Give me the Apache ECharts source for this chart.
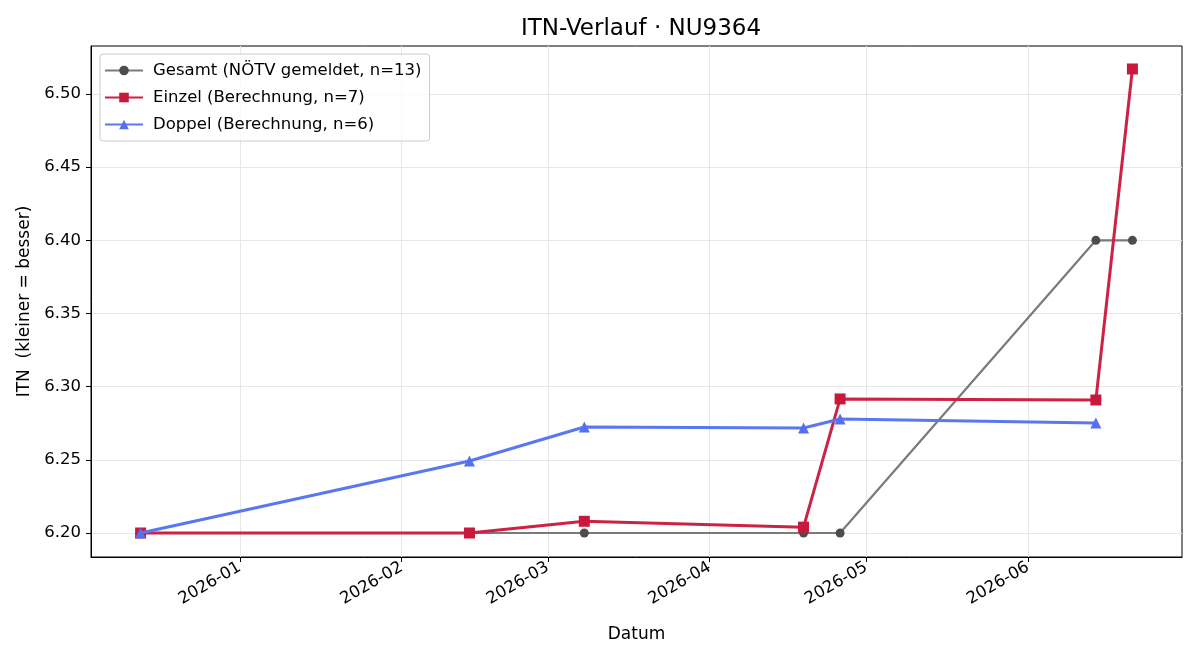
<!DOCTYPE html>
<html>
<head>
<meta charset="utf-8">
<title>ITN-Verlauf</title>
<script src="https://cdn.jsdelivr.net/npm/echarts@6/dist/echarts.min.js"></script>
<style>
  html, body { margin: 0; padding: 0; background: #fff; }
  #chart { width: 1200px; height: 660px; }
</style>
</head>
<body>
<div id="chart"></div>
<script>
// Daten
var dates = ["2025-12-13", "2026-02-14", "2026-03-08", "2026-04-19", "2026-04-26", "2026-06-14", "2026-06-21"];
var gesamtValues = [6.20, 6.20, 6.20, 6.20, 6.20, 6.40, 6.40];
var einzelValues = [6.20, 6.20, 6.208, 6.204, 6.2916, 6.2909, 6.5171];
var doppelValues = [6.20, 6.2492, 6.2724, 6.2718, 6.2779, 6.2752];
var monthTicks = ["2026-01-01", "2026-02-01", "2026-03-01", "2026-04-01", "2026-05-01", "2026-06-01"];
var yTicks = [6.20, 6.25, 6.30, 6.35, 6.40, 6.45, 6.50];

// Datum -> Zeitstempel (UTC)
function ts(d) { return Date.parse(d + "T00:00:00Z"); }
function pairs(xs, ys) {
  return ys.map(function (v, i) { return [ts(xs[i]), v]; });
}
var FONT = "DejaVu Sans";
var DAY = 86400000;

var chart = echarts.init(document.getElementById("chart"));
chart.setOption({
  animation: false,
  backgroundColor: "#fff",
  textStyle: { fontFamily: FONT },
  title: {
    text: "ITN-Verlauf · NU9364",
    left: 636,
    textAlign: "center",
    top: 13,
    textStyle: { fontFamily: FONT, fontSize: 23, fontWeight: "normal", color: "#000" }
  },
  legend: {
    orient: "vertical",
    left: 100,
    top: 54,
    itemWidth: 38,
    itemHeight: 12,
    itemGap: 10,
    padding: [8, 8, 8, 4],
    borderColor: "#ccc",
    borderWidth: 1,
    borderRadius: 3,
    backgroundColor: "rgba(255,255,255,0.8)",
    textStyle: { fontFamily: FONT, fontSize: 16.5, color: "#000", padding: [0, 0, 0, 5] },
    data: ["Gesamt (NÖTV gemeldet, n=13)", "Einzel (Berechnung, n=7)", "Doppel (Berechnung, n=6)"]
  },
  grid: {
    left: 91, right: 18, top: 46, bottom: 103,
    show: true, borderColor: "#000", borderWidth: 1, backgroundColor: "#fff"
  },
  xAxis: {
    type: "value",
    min: ts("2025-12-03") + DAY / 2,
    max: ts("2026-06-30") + DAY / 2,
    name: "Datum",
    nameLocation: "middle",
    nameGap: 69,
    nameTextStyle: { fontFamily: FONT, fontSize: 17, color: "#000" },
    axisLine: { lineStyle: { color: "#000", width: 1 } },
    axisTick: { show: true, length: 5, lineStyle: { color: "#000" }, customValues: monthTicks.map(ts) },
    axisLabel: {
      rotate: 30,
      margin: 9,
      fontFamily: FONT, fontSize: 16.5, color: "#000",
      customValues: monthTicks.map(ts),
      formatter: function (v) { return new Date(v).toISOString().slice(0, 7); }
    },
    splitLine: { show: true, lineStyle: { color: "#e6e6e6", width: 1 } }
  },
  yAxis: {
    type: "value",
    min: 6.1836,
    max: 6.5328,
    name: "ITN  (kleiner = besser)",
    nameLocation: "middle",
    nameGap: 57,
    nameTextStyle: { fontFamily: FONT, fontSize: 17, color: "#000" },
    axisLine: { show: true, lineStyle: { color: "#000", width: 1 } },
    axisTick: { show: true, length: 5, lineStyle: { color: "#000" }, customValues: yTicks },
    axisLabel: {
      margin: 10, fontFamily: FONT, fontSize: 16.5, color: "#000",
      customValues: yTicks,
      formatter: function (v) { return v.toFixed(2); }
    },
    splitLine: { show: true, lineStyle: { color: "#e6e6e6", width: 1 } }
  },
  series: [
    {
      name: "Gesamt (NÖTV gemeldet, n=13)",
      type: "line",
      data: pairs(dates, gesamtValues),
      symbol: "circle",
      symbolSize: 9,
      lineStyle: { color: "#7a7a7a", width: 2.2 },
      itemStyle: { color: "#4d4d4d" },
      z: 2
    },
    {
      name: "Einzel (Berechnung, n=7)",
      type: "line",
      data: pairs(dates, einzelValues),
      symbol: "rect",
      symbolSize: 11,
      lineStyle: { color: "#cc2244", width: 3 },
      itemStyle: { color: "#c8193c" },
      z: 3
    },
    {
      name: "Doppel (Berechnung, n=6)",
      type: "line",
      data: pairs(dates.slice(0, 6), doppelValues),
      symbol: "triangle",
      symbolSize: 11,
      lineStyle: { color: "#5a77f2", width: 3 },
      itemStyle: { color: "#5470f0" },
      z: 4
    }
  ]
});
</script>
</body>
</html>
